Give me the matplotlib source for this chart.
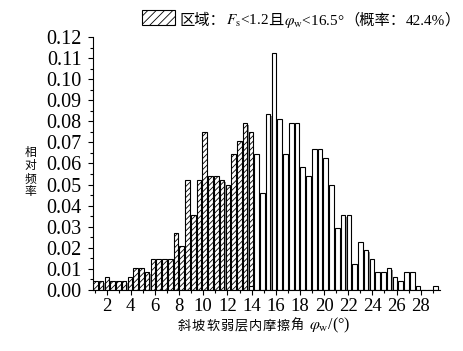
"""斜坡软弱层内摩擦角频率直方图."""
import matplotlib

matplotlib.use("Agg")
import matplotlib.pyplot as plt
import numpy as np
from matplotlib.offsetbox import AnchoredOffsetbox, DrawingArea, HPacker, TextArea
from matplotlib.patches import Rectangle
from matplotlib.ticker import FormatStrFormatter, MultipleLocator

plt.rcParams["mathtext.fontset"] = "stix"
plt.rcParams["hatch.linewidth"] = 0.6

SERIF = ["Liberation Serif", "DejaVu Serif"]
CJK = ["Noto Sans CJK SC", "DejaVu Sans"]

# 分箱
bin_start = 0.87
bin_width = 0.477

# 满足 Fs<1.2 且 φw<16.5° 的区域（阴影柱，第0~27箱）
region_freq = [
    0.0042, 0.0042, 0.0063, 0.0042, 0.0042, 0.0042, 0.0063, 0.0104,
    0.0104, 0.0083, 0.0146, 0.0146, 0.0146, 0.0146, 0.0271, 0.0208,
    0.0521, 0.0354, 0.0521, 0.0750, 0.0542, 0.0542, 0.0521, 0.0500,
    0.0646, 0.0708, 0.0792, 0.0750,
]

# 其余样本（空白柱，从第27箱开始）
other_first_bin = 27
other_freq = [
    0.0021,
    0.0646, 0.0458, 0.0833, 0.1125, 0.0813, 0.0646, 0.0792, 0.0792,
    0.0583, 0.0542, 0.0667, 0.0667, 0.0625, 0.0500, 0.0292, 0.0354,
    0.0354, 0.0125, 0.0229, 0.0188, 0.0146, 0.0083, 0.0083, 0.0104,
    0.0063, 0.0042, 0.0083, 0.0083, 0.0021, 0.0, 0.0, 0.0021,
]

legend_parts = [
    ("区域：", CJK), (r"$F_\mathrm{s}$<1.2", SERIF), ("且", CJK),
    (r"$\varphi_\mathrm{w}$<16.5°", SERIF), ("（概率：", CJK),
    ("42.4%", SERIF), ("）", CJK),
]
xlabel_cn = "斜坡软弱层内摩擦角"
xlabel_tail = r" $\varphi_\mathrm{w}$/(°)"
ylabel_cn = "相对频率"


def draw_bars(ax, left, heights, hatch=None):
    """画带灰色阴影的柱子."""
    heights = np.asarray(heights)
    shadow = np.clip(heights - 0.0008, 0, None)
    ax.bar(left + bin_width * 0.3, shadow, width=bin_width * 0.7, align="edge",
           color="#8a8a8a", linewidth=0, zorder=1)
    ax.bar(left, heights, width=bin_width * 0.8, align="edge",
           facecolor="white", edgecolor="black", linewidth=0.8,
           hatch=hatch, zorder=2)


fig = plt.figure(figsize=(4.64, 3.51), dpi=100)
ax = fig.add_axes([0.2004, 0.1738, 0.748, 0.7208])

left_region = bin_start + bin_width * np.arange(len(region_freq))
left_other = bin_start + bin_width * (np.arange(len(other_freq)) + other_first_bin)
draw_bars(ax, left_region, region_freq, hatch="//////")
draw_bars(ax, left_other, other_freq)

ax.set_xlim(bin_start, 29.6)
ax.set_ylim(0, 0.12)
ax.spines["top"].set_visible(False)
ax.spines["right"].set_visible(False)
for sp in ("left", "bottom"):
    ax.spines[sp].set_linewidth(0.8)

ax.set_xticks(np.arange(2, 29, 2))
ax.xaxis.set_minor_locator(MultipleLocator(1))
ax.yaxis.set_major_locator(MultipleLocator(0.01))
ax.yaxis.set_minor_locator(MultipleLocator(0.005))
ax.yaxis.set_major_formatter(FormatStrFormatter("%.2f"))
ax.tick_params(which="major", direction="out", length=3.5, width=0.8)
ax.tick_params(which="minor", direction="out", length=2.5, width=0.8)
ax.tick_params(axis="x", which="major", pad=2, labelsize=13.5)
ax.tick_params(axis="y", which="major", pad=4.5, labelsize=14.5)
for lab in ax.get_xticklabels() + ax.get_yticklabels():
    lab.set_family(SERIF)

# 图例
da = DrawingArea(24, 11, 0, 0)
da.add_artist(Rectangle((0, 0), 24, 11, facecolor="white", edgecolor="black",
                        linewidth=0.8, hatch="////"))
items = [da, TextArea(" ", textprops=dict(fontsize=11))]
for txt, fam in legend_parts:
    items.append(TextArea(txt, textprops=dict(fontsize=11, family=fam)))
legend_box = HPacker(children=items, align="baseline", pad=0, sep=0)
fig.add_artist(AnchoredOffsetbox(loc="center", child=legend_box, frameon=False,
                                 bbox_to_anchor=(0.648, 0.944),
                                 bbox_transform=fig.transFigure, pad=0,
                                 borderpad=0))

# x轴标题（字间留空）
xl_items = [TextArea(c, textprops=dict(fontsize=9.5, family=CJK)) for c in xlabel_cn]
xl_items.append(TextArea(xlabel_tail, textprops=dict(fontsize=11.5, family=SERIF)))
xl_box = HPacker(children=xl_items, align="baseline", pad=0, sep=0.6)
fig.add_artist(AnchoredOffsetbox(loc="center", child=xl_box, frameon=False,
                                 bbox_to_anchor=(0.569, 0.072),
                                 bbox_transform=fig.transFigure, pad=0,
                                 borderpad=0))

# y轴标题（竖排）
fig.text(0.065, 0.51, "\n".join(ylabel_cn), family=CJK, fontsize=8.5,
         ha="center", va="center", linespacing=1.0)

fig.savefig("out.png", dpi=100)
